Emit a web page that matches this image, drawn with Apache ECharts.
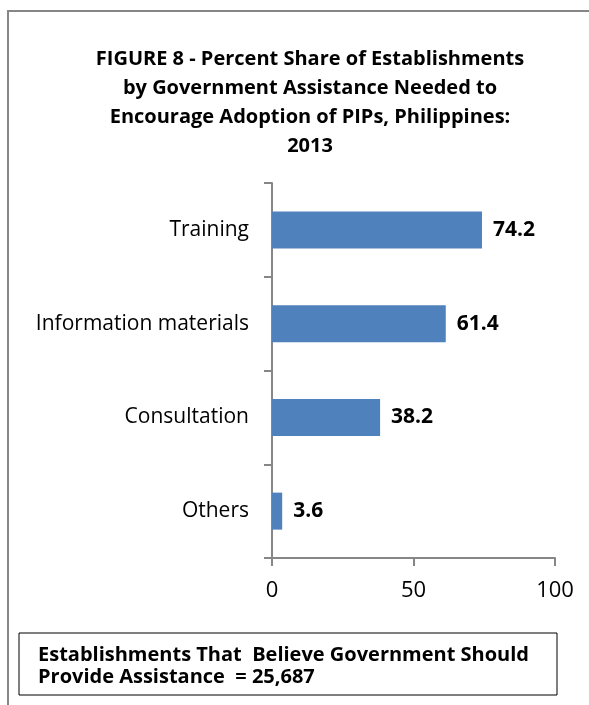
<!DOCTYPE html>
<html>
<head>
<meta charset="utf-8">
<script src="https://cdn.jsdelivr.net/npm/echarts@6/dist/echarts.min.js"></script>
<style>
  html, body { margin: 0; padding: 0; background: #fff; }
  #chart { width: 589px; height: 705px; }
</style>
</head>
<body>
<div id="chart"></div>
<script>
// data
const categories = ['Training', 'Information materials', 'Consultation', 'Others'];
const shares = [74.2, 61.4, 38.2, 3.6];
const xTicks = [0, 50, 100];

const titleText = 'FIGURE 8 - Percent Share of Establishments\nby Government Assistance Needed to\nEncourage Adoption of PIPs, Philippines:\n2013';
const noteText = 'Establishments That  Believe Government Should\nProvide Assistance  = 25,687';

const FONT = 'Open Sans';

const chart = echarts.init(document.getElementById('chart'));

chart.setOption({
  animation: false,
  title: {
    text: titleText,
    left: 305,
    textAlign: 'center',
    top: 40,
    textStyle: {
      fontFamily: FONT,
      fontSize: 20,
      fontWeight: 'bold',
      color: '#000',
      lineHeight: 29,
    },
  },
  grid: {
    left: 272,
    right: 34,
    top: 183,
    bottom: 147,
  },
  xAxis: {
    type: 'value',
    min: xTicks[0],
    max: xTicks[xTicks.length - 1],
    interval: 50,
    axisLine: { show: true, lineStyle: { color: '#868686', width: 2 } },
    axisTick: { show: true, length: 8, lineStyle: { color: '#868686', width: 2 } },
    splitLine: { show: false },
    axisLabel: {
      fontFamily: FONT,
      fontSize: 22,
      color: '#000',
      margin: 22,
    },
  },
  yAxis: {
    type: 'category',
    data: categories,
    inverse: true,
    axisLine: { show: true, lineStyle: { color: '#868686', width: 2 } },
    axisTick: { show: true, length: 8, lineStyle: { color: '#868686', width: 2 } },
    axisLabel: {
      fontFamily: FONT,
      fontSize: 21,
      color: '#000',
      margin: 23,
    },
  },
  series: [
    {
      type: 'bar',
      data: shares,
      barWidth: 37,
      itemStyle: { color: '#4F81BD' },
      label: {
        show: true,
        position: 'right',
        distance: 11,
        fontFamily: FONT,
        fontSize: 21,
        fontWeight: 'bold',
        color: '#000',
        formatter: (p) => p.value.toFixed(1),
      },
    },
  ],
  graphic: [
    {
      type: 'rect',
      silent: true,
      shape: { x: 8, y: 11, width: 700, height: 800 },
      style: { fill: 'none', stroke: '#868686', lineWidth: 2 },
    },
    {
      type: 'rect',
      silent: true,
      shape: { x: 19, y: 633, width: 538, height: 62 },
      style: { fill: '#fff', stroke: '#000', lineWidth: 1 },
    },
    {
      type: 'text',
      silent: true,
      left: 38,
      top: 644,
      style: {
        text: noteText,
        fontFamily: FONT,
        fontSize: 20,
        fontWeight: 'bold',
        fill: '#000',
        lineHeight: 22,
      },
    },
  ],
});

window.addEventListener('resize', () => chart.resize());
</script>
</body>
</html>
